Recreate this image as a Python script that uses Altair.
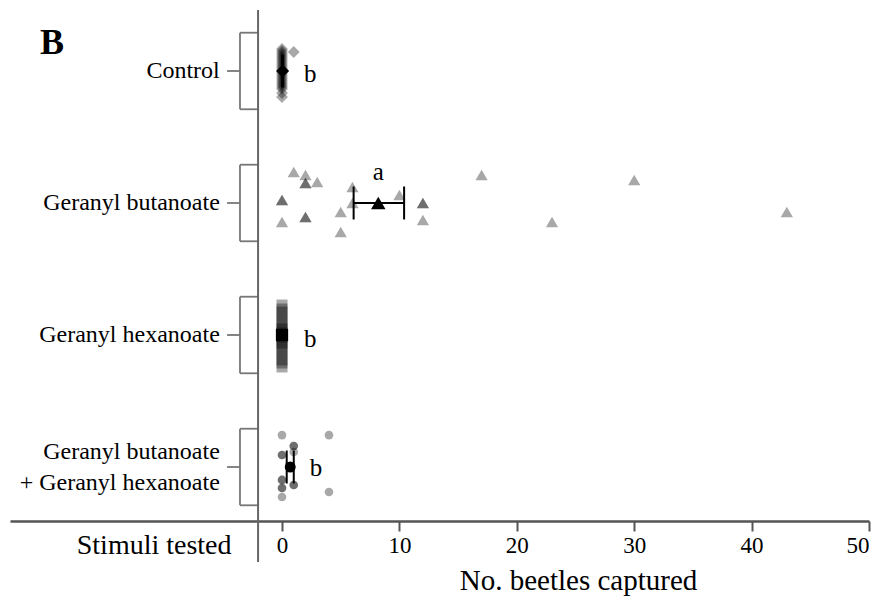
import altair as alt
import pandas as pd

# ---------------- data ----------------
groups = ["Control", "Geranyl butanoate", "Geranyl hexanoate",
          "Geranyl butanoate\n+ Geranyl hexanoate"]

# individual captures and their vertical jitter (fraction of row spacing)
control_vals = [0] * 23 + [1]
control_jit = [-0.167, -0.136, -0.106, -0.076, -0.045, -0.015, 0.015, 0.045,
               0.076, 0.106, 0.136, 0.167, 0.197,
               -0.152, -0.121, -0.091, -0.061, -0.030, 0.0, 0.030, 0.061, 0.091, 0.121,
               -0.144]

butanoate_vals = [1, 2, 2, 2, 3, 0, 0, 0, 2, 2, 5, 5, 6, 6, 10, 12, 12, 12, 17, 23, 30, 43]
butanoate_jit = [-0.235, -0.212, -0.152, -0.152, -0.159, -0.023, -0.023, 0.144,
                 0.106, 0.106, 0.068, 0.220, -0.121, 0.0, -0.061, 0.0, 0.0, 0.129,
                 -0.212, 0.144, -0.174, 0.068]

hexanoate_vals = [0] * 23
hexanoate_jit = [-0.227, -0.197, -0.174, -0.144, -0.114, -0.091, -0.061, -0.030,
                 -0.008, 0.023, 0.045, 0.076, 0.106, 0.129, 0.159, 0.189, 0.212, 0.242,
                 -0.045, -0.015, 0.0, 0.015, 0.06]

mix_vals = [0, 4, 1, 1, 1, 0, 0, 0, 0, 0, 0, 1, 1, 0, 4]
mix_jit = [-0.242, -0.242, -0.159, -0.159, -0.114, -0.091, -0.091, 0.098, 0.098,
           0.159, 0.159, 0.136, 0.136, 0.227, 0.189]

# group means and standard-error limits
mean_vals = [0.05, 8.2, 0.0, 0.7]
se_low = [0.0, 6.1, 0.0, 0.4]
se_high = [0.1, 10.4, 0.0, 1.0]
has_err = [True, True, False, True]

# significance letters
letters = ["b", "a", "b", "b"]
letter_x = [2.4, 8.2, 2.4, 2.9]
letter_dy = [0.02, -0.235, 0.03, 0.005]

x_ticks = [0, 10, 20, 30, 40, 50]

# ---------------- layout constants ----------------
shapes = ["diamond", "triangle-up", "square", "circle"]
pt_sizes = [140, 150, 121, 75]
mean_sizes = [170, 210, 150, 120]
SERIF = "Liberation Serif"
X_DOMAIN = [-23.17, 50]
Y_DOMAIN = [-0.462, 3.409]
AXIS_X = -2.04
BR_LEFT = -3.58
TICK_LEFT = -4.68
BR_HALF = 0.29
LABEL_X = -5.3
CAP = 0.125

xscale = alt.Scale(domain=X_DOMAIN, nice=False, zero=False)
yscale = alt.Scale(domain=Y_DOMAIN, nice=False, zero=False, reverse=True)

raw = [control_vals, butanoate_vals, hexanoate_vals, mix_vals]
jit = [control_jit, butanoate_jit, hexanoate_jit, mix_jit]

xaxis = alt.Axis(values=x_ticks, title="No. beetles captured", grid=False,
                 labelFont=SERIF, labelFontSize=23, labelColor="black",
                 labelPadding=3, tickSize=10, tickWidth=2, tickColor="#555",
                 domainColor="#555", domainWidth=2.5,
                 titleFont=SERIF, titleFontSize=29, titleFontWeight="normal",
                 titleColor="black", titleX=568, titleY=59,
                 titleBaseline="middle", titleAlign="center")


def X(field):
    return alt.X(field, scale=xscale, axis=xaxis)


def Y(field):
    return alt.Y(field, scale=yscale, axis=None)


layers = []

# individual points
for i, g in enumerate(groups):
    df = pd.DataFrame({"value": raw[i],
                       "ypos": [i + j for j in jit[i]]})
    layers.append(
        alt.Chart(df).mark_point(shape=shapes[i], size=pt_sizes[i], filled=True,
                                 color="black", opacity=0.34, strokeWidth=0)
        .encode(x=X("value:Q"), y=Y("ypos:Q"))
    )

# error bars
err_rows = []
cap_rows = []
for i in range(4):
    if has_err[i]:
        err_rows.append({"x": se_low[i], "x2": se_high[i], "y": i})
        for v in (se_low[i], se_high[i]):
            cap_rows.append({"x": v, "y": i - CAP, "y2": i + CAP})
layers.append(
    alt.Chart(pd.DataFrame(err_rows)).mark_rule(color="black", strokeWidth=2)
    .encode(x=X("x:Q"), x2="x2:Q", y=Y("y:Q"))
)
layers.append(
    alt.Chart(pd.DataFrame(cap_rows)).mark_rule(color="black", strokeWidth=2)
    .encode(x=X("x:Q"), y=Y("y:Q"), y2="y2:Q")
)

# means
for i in range(4):
    dfm = pd.DataFrame({"value": [mean_vals[i]], "ypos": [i]})
    layers.append(
        alt.Chart(dfm).mark_point(shape=shapes[i], size=mean_sizes[i], filled=True,
                                  color="black", opacity=1, strokeWidth=0)
        .encode(x=X("value:Q"), y=Y("ypos:Q"))
    )

# letters
dfl = pd.DataFrame({"t": letters, "x": letter_x,
                    "y": [i + d for i, d in enumerate(letter_dy)]})
layers.append(
    alt.Chart(dfl).mark_text(font=SERIF, fontSize=25, color="black",
                             align="center", baseline="middle")
    .encode(x=X("x:Q"), y=Y("y:Q"), text="t:N")
)

# brackets
seg = []
for i in range(4):
    seg.append({"x": BR_LEFT, "x2": AXIS_X, "y": i - BR_HALF, "y2": i - BR_HALF})
    seg.append({"x": BR_LEFT, "x2": AXIS_X, "y": i + BR_HALF, "y2": i + BR_HALF})
    seg.append({"x": BR_LEFT, "x2": BR_LEFT, "y": i - BR_HALF, "y2": i + BR_HALF})
    seg.append({"x": TICK_LEFT, "x2": BR_LEFT, "y": i, "y2": i})
layers.append(
    alt.Chart(pd.DataFrame(seg)).mark_rule(color="#777", strokeWidth=1.8)
    .encode(x=X("x:Q"), x2="x2:Q", y=Y("y:Q"), y2="y2:Q")
)

# vertical stimulus axis line
layers.append(
    alt.Chart(pd.DataFrame({"x": [AXIS_X], "y": [Y_DOMAIN[0]], "y2": [3.72]}))
    .mark_rule(color="#666", strokeWidth=2)
    .encode(x=X("x:Q"), y=Y("y:Q"), y2="y2:Q")
)

# category labels (single-line ones, then the two-line one centred on its row)
dfg = pd.DataFrame({"t": groups[:3], "x": [LABEL_X] * 3, "y": [0, 1, 2]})
layers.append(
    alt.Chart(dfg).mark_text(font=SERIF, fontSize=24, color="black", align="right",
                             baseline="middle")
    .encode(x=X("x:Q"), y=Y("y:Q"), text="t:N")
)
dfg2 = pd.DataFrame({"t": [groups[3]], "x": [LABEL_X], "y": [3]})
layers.append(
    alt.Chart(dfg2).mark_text(font=SERIF, fontSize=24, color="black", align="right",
                              baseline="middle", lineBreak="\n", lineHeight=31, dy=-15)
    .encode(x=X("x:Q"), y=Y("y:Q"), text="t:N")
)

# "Stimuli tested" and panel letter
dft = pd.DataFrame({"t": ["Stimuli tested"], "x": [-4.3], "y": [3.599]})
layers.append(
    alt.Chart(dft).mark_text(font=SERIF, fontSize=28, color="black", align="right",
                             baseline="middle")
    .encode(x=X("x:Q"), y=Y("y:Q"), text="t:N")
)
dfb = pd.DataFrame({"t": ["B"], "x": [-19.6], "y": [-0.212]})
layers.append(
    alt.Chart(dfb).mark_text(font=SERIF, fontSize=36, fontWeight="bold", color="black",
                             align="center", baseline="middle")
    .encode(x=X("x:Q"), y=Y("y:Q"), text="t:N")
)

chart = alt.layer(*layers).properties(
    width=859, height=511,
    autosize=alt.AutoSizeParams(type="none"),
    padding={"left": 10, "top": 10, "right": 16, "bottom": 81},
    background="white",
).configure_view(stroke=None)

chart.save("out.html", embed_options={"renderer": "svg", "actions": False})
